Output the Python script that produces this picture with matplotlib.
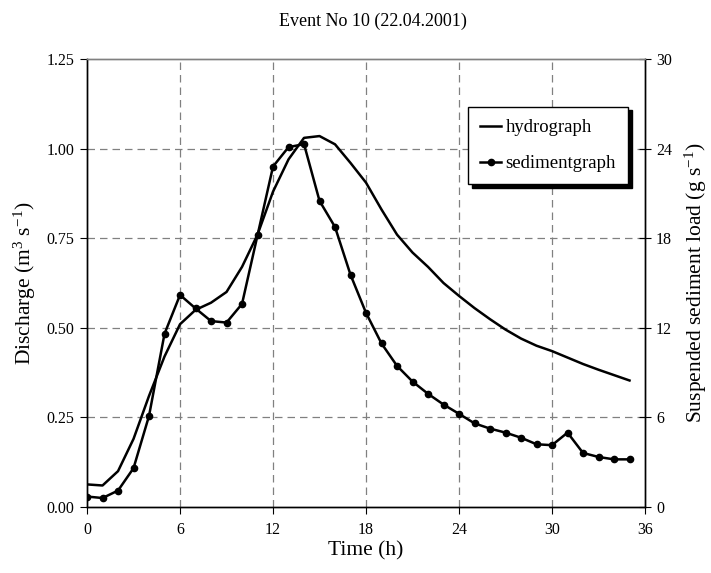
import matplotlib
matplotlib.use("Agg")
import matplotlib.pyplot as plt

plt.rcParams['font.family'] = ['Liberation Serif', 'DejaVu Serif']
plt.rcParams['mathtext.fontset'] = 'custom'
plt.rcParams['mathtext.rm'] = 'Liberation Serif'
plt.rcParams['mathtext.it'] = 'Liberation Serif:italic'

# data
time_h = list(range(36))
discharge = [0.063, 0.060, 0.10, 0.19, 0.31, 0.42, 0.51, 0.55, 0.57, 0.60,
             0.67, 0.76, 0.88, 0.97, 1.03, 1.035, 1.012, 0.96, 0.905, 0.83,
             0.76, 0.71, 0.67, 0.625, 0.589, 0.555, 0.524, 0.495, 0.47, 0.45,
             0.435, 0.417, 0.399, 0.383, 0.368, 0.353]
sediment = [0.7, 0.6, 1.1, 2.6, 6.1, 11.6, 14.2, 13.3, 12.45, 12.35,
            13.6, 18.2, 22.8, 24.1, 24.3, 20.5, 18.75, 15.55, 13.0, 10.95,
            9.45, 8.4, 7.58, 6.86, 6.24, 5.6, 5.25, 4.98, 4.64, 4.2,
            4.14, 4.98, 3.62, 3.35, 3.19, 3.19]
x_ticks = [0, 6, 12, 18, 24, 30, 36]
left_ticks = [0.00, 0.25, 0.50, 0.75, 1.00, 1.25]
right_ticks = [0, 6, 12, 18, 24, 30]

fig = plt.figure(figsize=(7.11, 5.73), dpi=100)
ax = fig.add_axes([0.1224, 0.1152, 0.7848, 0.7818])
ax2 = ax.twinx()

# grid
for v in x_ticks[1:-1]:
    ax.axvline(v, color='#808080', lw=0.9, ls=(0, (6, 4)), zorder=0)
for v in left_ticks[1:-1]:
    ax.axhline(v, color='#808080', lw=0.9, ls=(0, (6, 4)), zorder=0)

l1, = ax.plot(time_h, discharge, color='black', lw=1.8, label='hydrograph')
l2, = ax2.plot(time_h, sediment, color='black', lw=1.8, marker='o',
               markersize=4.5, label='sedimentgraph')

ax.set_xlim(0, 36)
ax.set_ylim(0, 1.25)
ax2.set_ylim(0, 30)
ax.set_xticks(x_ticks)
ax.set_yticks(left_ticks)
ax.set_yticklabels(['%.2f' % v for v in left_ticks])
ax2.set_yticks(right_ticks)

ax.tick_params(axis='x', direction='out', length=5, labelsize=11.5, pad=6)
ax.tick_params(axis='y', direction='out', length=5, labelsize=11.5, pad=4)
ax2.tick_params(axis='y', direction='inout', length=8, labelsize=11.5, pad=4)

for a in (ax, ax2):
    a.spines['top'].set_color('#808080')
    a.spines['top'].set_linewidth(1.0)
    a.spines['left'].set_linewidth(1.0)
    a.spines['right'].set_linewidth(1.0)
    a.spines['bottom'].set_linewidth(1.0)

ax.set_xlabel('Time (h)', fontsize=15.5, labelpad=2)
ax.set_ylabel(r'Discharge (m$^{3}$ s$^{-1}$)', fontsize=15.5, labelpad=6)
ax2.set_ylabel(r'Suspended sediment load (g s$^{-1}$)', fontsize=15.5, labelpad=8)

fig.text(0.525, 0.963, 'Event No 10 (22.04.2001)', ha='center', va='center', fontsize=13)

leg = ax2.legend([l1, l2], ['hydrograph', 'sedimentgraph'], loc='upper left',
                 bbox_to_anchor=(0.683, 0.893), fontsize=13.5, fancybox=False,
                 shadow={'color': 'black', 'alpha': 1, 'ox': 2.5, 'oy': -2.5},
                 handlelength=1.1, handletextpad=0.25, borderpad=0.65,
                 labelspacing=1.0, framealpha=1, edgecolor='black',
                 borderaxespad=0)
leg.get_frame().set_linewidth(1.0)

fig.savefig('out.png', dpi=100)
